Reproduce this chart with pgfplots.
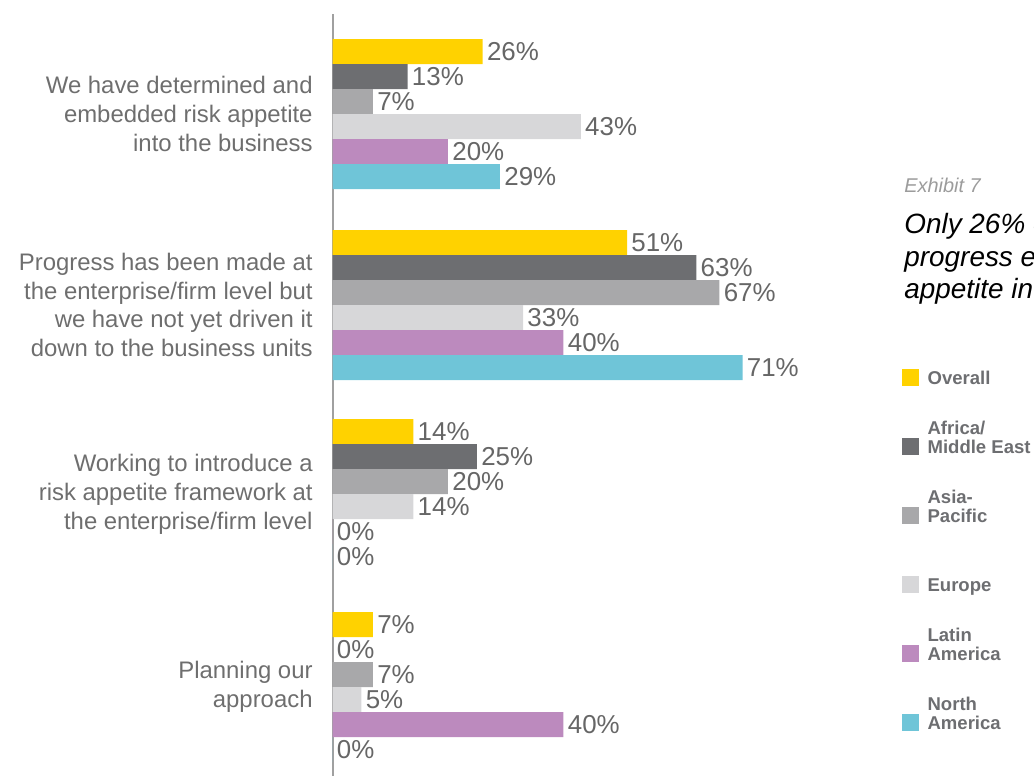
\documentclass[border=0pt]{standalone}
\usepackage{pgfplots}
\pgfplotsset{compat=1.18}
\usepackage{fontspec}
\setmainfont{Liberation Sans}
\setsansfont{Liberation Sans}
\definecolor{cYellow}{HTML}{FFD200}
\definecolor{cDark}{HTML}{6D6E71}
\definecolor{cMid}{HTML}{A8A8AA}
\definecolor{cLight}{HTML}{D7D7D9}
\definecolor{cPurple}{HTML}{BC8ABE}
\definecolor{cCyan}{HTML}{6FC5D8}
\definecolor{cAxis}{HTML}{A0A0A0}
\definecolor{cVal}{HTML}{666666}
\definecolor{cCat}{HTML}{6E6E6E}
\definecolor{cLeg}{HTML}{6D6E71}
\definecolor{cExh}{HTML}{9C9C9C}
\begin{document}
\begin{tikzpicture}
\path[use as bounding box] (0,0) rectangle (517bp,388bp);
\begin{axis}[
  at={(166.25bp,0bp)}, anchor=south west,
  x=2.8875bp, y=0.5bp,
  xmin=0, xmax=80, ymin=0, ymax=762,
  axis x line=none, axis y line=left,
  axis line style={-, draw=cAxis, line width=1bp},
  ytick={662,471,282,89},
  yticklabels={{We have determined and\\embedded risk appetite\\into the business},{Progress has been made at\\the enterprise/firm level but\\we have not yet driven it\\down to the business units},{Working to introduce a\\risk appetite framework at\\the enterprise/firm level},{Planning our\\approach}},
  major tick length=0pt,
  yticklabel style={align=right, anchor=east, inner sep=0pt, xshift=-9.75bp, font=\fontsize{12}{14.5}\selectfont, text=cCat},
  xbar, bar width=25,
  clip=false,
  point meta=x,
  nodes near coords={\pgfmathprintnumber{\pgfplotspointmeta}\%},
  every node near coord/.append style={anchor=west, inner sep=0pt, xshift=2bp, font=\fontsize{13}{13}\selectfont, text=cVal},
  /pgf/number format/assume math mode=true,
  legend cell align=left,
  legend style={at={(1.2327,0.5339)}, anchor=north west, draw=none, fill=none, inner sep=0pt, outer sep=0pt, row sep=26.2bp, column sep=4.5bp, font=\fontsize{9.3}{9}\selectfont\bfseries, text=cLeg, nodes={inner sep=0pt, anchor=west, text height=6.6bp, text depth=0pt}},
  legend image code/.code={\fill[#1] (0bp,-4.15bp) rectangle (8.3bp,4.15bp);},
]
\addplot[fill=cYellow, draw=none, bar shift=62.5] coordinates {(26,662) (51,471) (14,282) (7,89)};
\addlegendentry{Overall}
\addplot[fill=cDark, draw=none, bar shift=37.5] coordinates {(13,662) (63,471) (25,282) (0,89)};
\addlegendentry{\smash{\begin{tabular}[b]{@{}l@{}}Africa/\\Middle East\end{tabular}}}
\addplot[fill=cMid, draw=none, bar shift=12.5] coordinates {(7,662) (67,471) (20,282) (7,89)};
\addlegendentry{\smash{\begin{tabular}[b]{@{}l@{}}Asia-\\Pacific\end{tabular}}}
\addplot[fill=cLight, draw=none, bar shift=-12.5] coordinates {(43,662) (33,471) (14,282) (5,89)};
\addlegendentry{Europe}
\addplot[fill=cPurple, draw=none, bar shift=-37.5] coordinates {(20,662) (40,471) (0,282) (40,89)};
\addlegendentry{\smash{\begin{tabular}[b]{@{}l@{}}Latin\\America\end{tabular}}}
\addplot[fill=cCyan, draw=none, bar shift=-62.5] coordinates {(29,662) (71,471) (0,282) (0,89)};
\addlegendentry{\smash{\begin{tabular}[b]{@{}l@{}}North\\America\end{tabular}}}
\end{axis}
\node[anchor=base west, inner sep=0pt, font=\fontsize{10}{10}\selectfont\itshape, text=cExh] at (452bp,291.65bp) {Exhibit 7};
\node[anchor=base west, inner sep=0pt, font=\fontsize{14}{14}\selectfont\itshape] at (452bp,271.35bp) {Only 26\% o};
\node[anchor=base west, inner sep=0pt, font=\fontsize{14}{14}\selectfont\itshape] at (452bp,254.85bp) {progress e};
\node[anchor=base west, inner sep=0pt, font=\fontsize{14}{14}\selectfont\itshape] at (452bp,238.6bp) {appetite in};
\end{tikzpicture}
\end{document}
